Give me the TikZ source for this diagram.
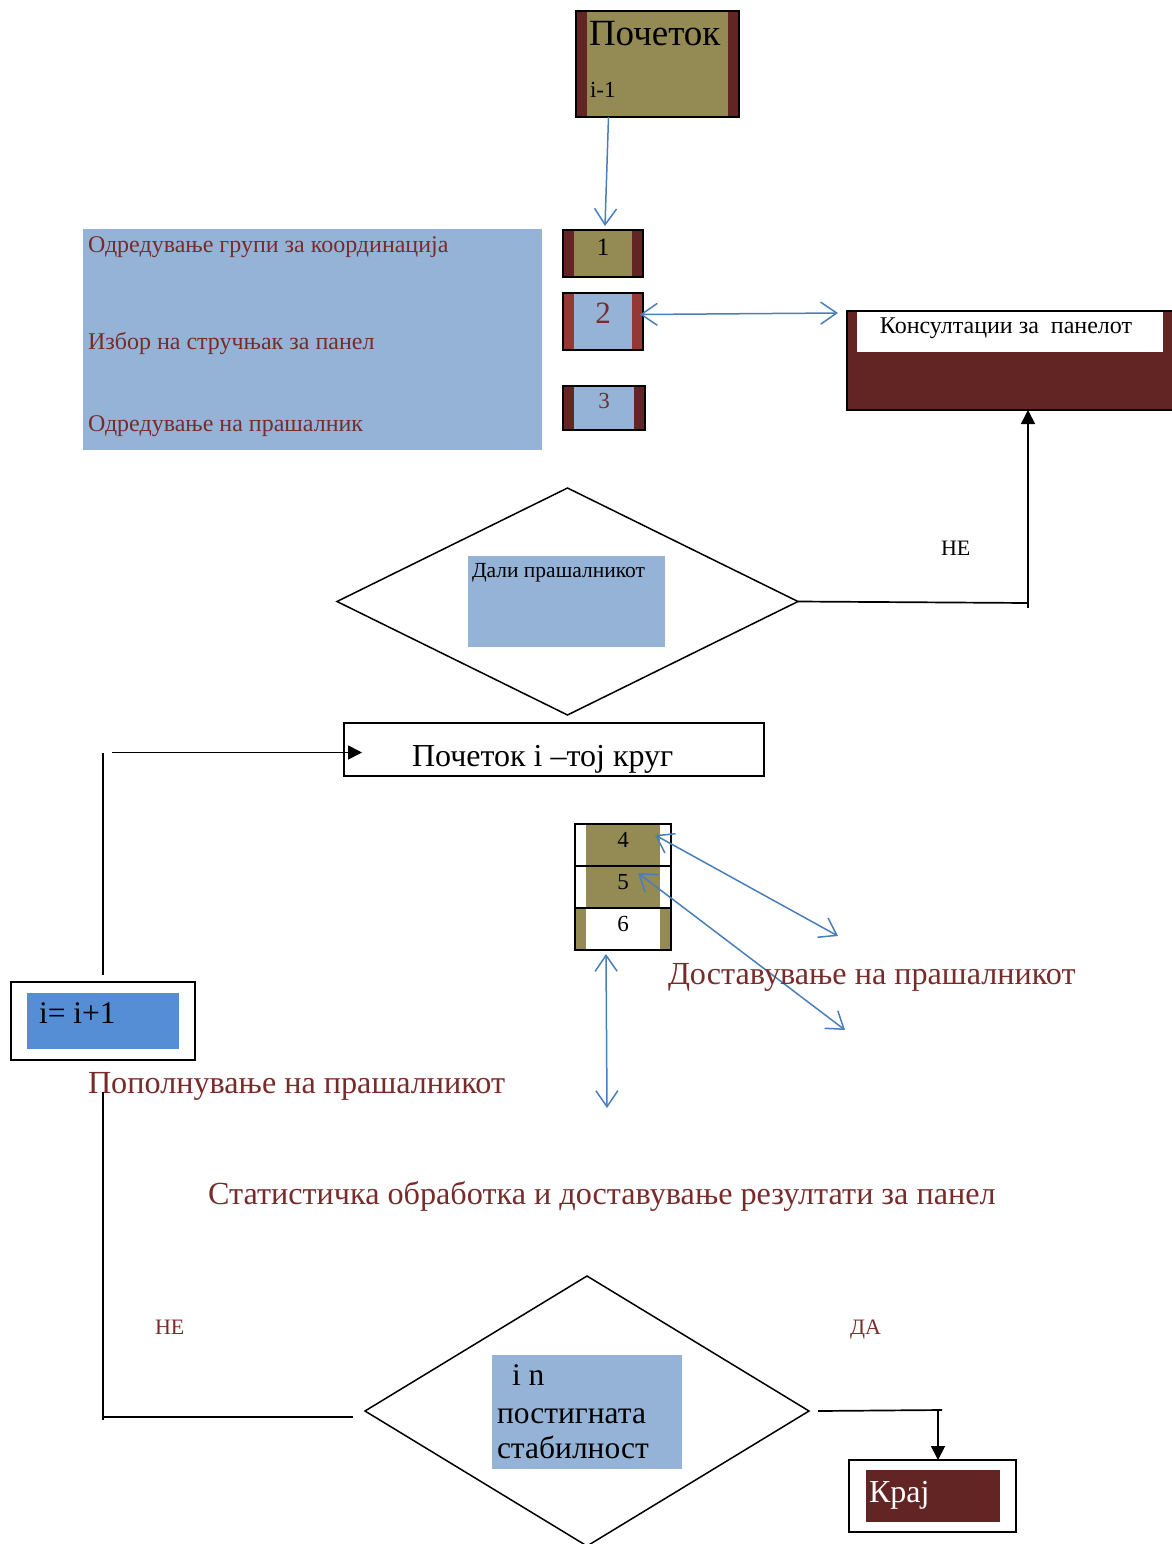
\documentclass[tikz,border=0pt]{standalone}
\usepackage{fontspec}
\setmainfont{Liberation Serif}
\usetikzlibrary{positioning}
\usetikzlibrary{arrows.meta,shapes.geometric}

\definecolor{khaki}{HTML}{948A54}
\definecolor{wine}{HTML}{632523}
\definecolor{brick}{HTML}{953735}
\definecolor{paleblue}{HTML}{95B3D7}
\definecolor{midblue}{HTML}{558ED5}
\definecolor{lineblue}{HTML}{4A7EBB}
\definecolor{inkred}{HTML}{772C2A}

\newcommand\sz[1]{\fontsize{#1}{#1}\selectfont}

\begin{document}
\begin{tikzpicture}
				[x=1pt,y=-1pt,
					every node/.style={inner sep=0pt,outer sep=0pt},
					box/.style={draw=black,line width=2pt},
					frame/.style={draw=black,line width=1.5pt,fill=white},
					strips/.style 2 args={fill=#1,
						path picture={\fill[#2] ([xshift=11pt]path picture bounding box.south west)
							rectangle ([xshift=-11pt]path picture bounding box.north east);}},
					panel/.style={fill=paleblue},
					word/.style={anchor=base west,text=inkred},
					plain/.style={anchor=base west},
					question/.style={diamond,draw=black,line width=1.5pt},
					link/.style={lineblue,line width=1.5pt,
						{Straight Barb[length=16pt,width=22pt]}-{Straight Barb[length=16pt,width=22pt]}},
					oneway/.style={lineblue,line width=1.5pt,-{Straight Barb[length=16pt,width=22pt]}},
					flow/.style={black,line width=1.7pt},
					flowto/.style={flow,-{Triangle[length=14pt,width=14pt]}}]
				\useasboundingbox (0,0) rectangle (1172,1544);

				% start and preparation
				\node (start) [box,strips={wine}{khaki},minimum width=163pt,minimum height=106pt] at (657.5,64) {};
				\node (startname) [plain,font=\sz{37}] at (589,46) {Почеток};
				\node (startidx) [plain,font=\sz{23}] at (590,98) {i-1};

				\node (tasks) [panel,minimum width=459pt,minimum height=221pt] at (312.5,339.5) {};
				\node (task1) [word,font=\sz{24}] at (88,252) {Одредување групи за координација};
				\node (task2) [word,font=\sz{24}] at (88,349) {Избор на стручњак за панел};
				\node (task3) [word,font=\sz{24}] at (88,431) {Одредување на прашалник};

				\node (b1) [box,strips={wine}{khaki},minimum width=80pt,minimum height=47pt] at (603,253.5) {};
				\node (b2) [box,strips={brick}{paleblue},minimum width=80pt,minimum height=57pt,below=16pt of b1] {};
				\node (b3) [box,strips={wine}{paleblue},minimum width=82pt,minimum height=44pt,below=36pt of b2,xshift=1pt] {};
				\node (n1) [anchor=base,font=\sz{25}] at (603,255) {1};
				\node (n2) [anchor=base,font=\sz{31},text=inkred] at (603,323) {2};
				\node (n3) [anchor=base,font=\sz{23},text=inkred] at (604,408) {3};

				\node (consult) [box,fill=wine,minimum width=326pt,minimum height=99pt] at (1010,360.5) {};
				\node (consultbar) [fill=white,minimum width=306pt,minimum height=40pt] at (1010,332) {};
				\node (consulttext) [anchor=base,font=\sz{24}] at (1006,333) {Консултации за\ \ панелот};

				\draw[oneway] ([xshift=-49pt]start.south) -- ([xshift=2pt,yshift=4pt]b1.north);
				\draw[link] ([xshift=-3pt,yshift=7pt]b2.east) -- ([xshift=-9pt,yshift=-2pt]consult.north west);

				% first question
				\node (q1) [question,minimum width=461pt,minimum height=227pt] at (567.5,601.5) {};
				\node (q1panel) [panel,minimum width=197pt,minimum height=91pt] at (566.5,601.5) {};
				\node (q1text) [plain,font=\sz{21.5}] at (472,577) {Дали прашалникот};
				\coordinate (turn1) at (1028,603);
				\draw[flow] (q1.east) -- (turn1);
				\draw[flowto] ([yshift=-5pt]turn1) -- (consult.south -| turn1);
				\node (no1) [plain,font=\sz{22}] at (941,555) {НЕ};

				% round
				\node (round) [box,minimum width=420pt,minimum height=53pt] at (554,749.5) {};
				\node (roundtext) [plain,font=\sz{32}] at (412,766) {Почеток i –тој круг};

				\node (b4) [box,strips={white}{khaki},minimum width=96pt,minimum height=42pt] at (623,845) {};
				\node (b5) [box,strips={white}{khaki},minimum width=96pt,minimum height=42pt,below=0pt of b4] {};
				\node (b6) [box,strips={khaki}{white},minimum width=96pt,minimum height=42pt,below=0pt of b5] {};
				\node (n4) [anchor=base,font=\sz{23}] at (623,847) {4};
				\node (n5) [anchor=base,font=\sz{23}] at (623,889) {5};
				\node (n6) [anchor=base,font=\sz{23}] at (623,931) {6};

				\coordinate (post4) at (838,936);
				\coordinate (post5) at (845,1030);
				\coordinate (back6) at (607,1108);
				\draw[link] ([xshift=-16pt,yshift=10pt]b4.east) -- (post4);
				\draw[link] ([xshift=-33pt,yshift=14pt]b5.east) -- (post5);
				\draw[link] ([xshift=-17pt,yshift=-4pt]b6.south) -- (back6);

				\node (deliver) [word,font=\sz{32.2}] at (668,984) {Доставување на прашалникот};
				\node (fillin) [word,font=\sz{32.2}] at (88,1093) {Пополнување на прашалникот};
				\node (stats) [word,font=\sz{32.2}] at (208,1204) {Статистичка обработка и доставување резултати за панел};

				% next round
				\node (inc) [frame,minimum width=184pt,minimum height=78pt] at (103,1021) {};
				\node (incfill) [fill=midblue,minimum width=152pt,minimum height=56pt] at (103,1021) {};
				\node (inctext) [plain,font=\sz{31.5}] at (39,1023) {i= i+1};
				\draw[flow] ([yshift=7pt]inc.north) -- ([yshift=-3pt]inc.north |- round.west);
				\draw[flowto,shorten >=-18pt] ([xshift=9pt,yshift=-3pt]inc.north |- round.west) -- ([yshift=-3pt]round.west);

				% stability check
				\node (q2) [question,minimum width=444pt,minimum height=270pt] at (587,1411) {};
				\node (q2panel) [panel,minimum width=190pt,minimum height=114pt] at (587,1412) {};
				\node (q2line1) [plain,font=\sz{31.5}] at (512,1385) {i n};
				\node (q2line2) [plain,font=\sz{31.5}] at (497,1423) {постигната};
				\node (q2line3) [plain,font=\sz{31.5}] at (497,1458) {стабилност};

				\coordinate (corner2) at (103,1417);
				\draw[flow] ([yshift=-32pt]inc.south) -- ([yshift=-3pt]corner2);
				\draw[flow] (corner2) -- ([xshift=-12pt,yshift=-6pt]q2.west);
				\node (no2) [word,font=\sz{22}] at (155,1334) {НЕ};
				\node (yes2) [word,font=\sz{22}] at (850,1334) {ДА};

				\node (stop) [frame,minimum width=167pt,minimum height=72pt] at (932.5,1496) {};
				\node (stopfill) [fill=wine,minimum width=134pt,minimum height=52pt] at (933,1496) {};
				\node (stoptext) [plain,font=\sz{32},text=white] at (869,1502) {Крај};

				\coordinate (corner3) at (938,1410);
				\draw[flow] ([xshift=9pt]q2.east) -- ([xshift=4pt]corner3);
				\draw[flowto] (corner3) -- ([xshift=5.5pt]stop.north);
			\end{tikzpicture}
\end{document}
